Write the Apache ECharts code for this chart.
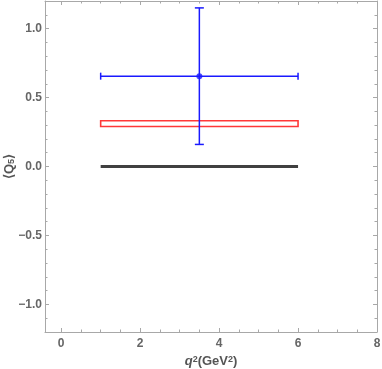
<!DOCTYPE html>
<html><head><meta charset="utf-8">
<script src="https://cdn.jsdelivr.net/npm/echarts@6/dist/echarts.min.js"></script>
<style>html,body{margin:0;padding:0;background:#fff}#c{width:382px;height:369px}</style>
</head><body><div id="c"></div>
<script>
// Data
const measX = [3.5];
const measY = [0.655];
const measXLow = [1.0];
const measXHigh = [6.0];
const measYLow = [0.16];
const measYHigh = [1.15];
const bandXLow = [1.0];
const bandXHigh = [6.0];
const bandYLow = [0.29];
const bandYHigh = [0.332];
const smX = [1.0, 6.0];
const smY = [0.0, 0.0];
const xMajor = [0, 2, 4, 6, 8];
const xMinor = [0.5, 1, 1.5, 2.5, 3, 3.5, 4.5, 5, 5.5, 6.5, 7, 7.5];
const yMajor = [-1.0, -0.5, 0.0, 0.5, 1.0];
const yMinor = [-1.1, -0.9, -0.8, -0.7, -0.6, -0.4, -0.3, -0.2, -0.1, 0.1, 0.2, 0.3, 0.4, 0.6, 0.7, 0.8, 0.9, 1.1];

const axisCol = '#a8a8a8';
const labelStyle = {color: '#666', fontSize: 12, fontWeight: 'bold', fontFamily: 'Liberation Sans, Arial, sans-serif'};

function xAx(pos, vals, len, showLine, showLabel) {
  return {
    type: 'value', position: pos, min: -0.41, max: 8,
    axisLine: {show: showLine, onZero: false, lineStyle: {color: axisCol, width: 1}},
    axisTick: {show: true, inside: true, length: len, customValues: vals, lineStyle: {color: axisCol}},
    axisLabel: showLabel ? Object.assign({customValues: xMajor, margin: 6}, labelStyle) : {show: false},
    splitLine: {show: false}
  };
}
function yAx(pos, vals, len, showLine, showLabel) {
  return {
    type: 'value', position: pos, min: -1.2, max: 1.2,
    axisLine: {show: showLine, onZero: false, lineStyle: {color: axisCol, width: 1}},
    axisTick: {show: true, inside: true, length: len, customValues: vals, lineStyle: {color: axisCol}},
    axisLabel: showLabel ? Object.assign({customValues: yMajor, margin: 3,
      formatter: v => (v < 0 ? '\u2212' : '') + Math.abs(v).toFixed(1)}, labelStyle) : {show: false},
    splitLine: {show: false}
  };
}

const xAxes = [
  xAx('bottom', xMajor, 4, true, true),
  xAx('bottom', xMinor, 2.5, false, false),
  xAx('top', xMajor, 4, true, false),
  xAx('top', xMinor, 2.5, false, false)
];
xAxes[0].name = '{i|q}{s|2}{n|(GeV}{s|2}{n|)}';
xAxes[0].nameLocation = 'middle';
xAxes[0].nameGap = 23;
xAxes[0].nameMoveOverlap = false;
xAxes[0].nameTextStyle = {
  rich: {
    i: {fontStyle: 'italic', fontWeight: 'bold', fontSize: 13, color: '#555', fontFamily: 'Liberation Sans'},
    n: {fontWeight: 'bold', fontSize: 13, color: '#555', fontFamily: 'Liberation Sans'},
    s: {fontWeight: 'bold', fontSize: 9, color: '#555', fontFamily: 'Liberation Sans', verticalAlign: 'top', lineHeight: 13}
  }
};
const yAxes = [
  yAx('left', yMajor, 4, true, true),
  yAx('left', yMinor, 2.5, false, false),
  yAx('right', yMajor, 4, true, false),
  yAx('right', yMinor, 2.5, false, false)
];
yAxes[0].name = '{n|\u27E8Q}{b|5}{n|\u27E9}';
yAxes[0].nameLocation = 'middle';
yAxes[0].nameGap = 29;
yAxes[0].nameMoveOverlap = false;
yAxes[0].nameTextStyle = {
  rich: {
    n: {fontWeight: 'bold', fontSize: 13, color: '#555', fontFamily: 'Liberation Sans'},
    b: {fontWeight: 'bold', fontSize: 9, color: '#555', fontFamily: 'Liberation Sans', verticalAlign: 'bottom', lineHeight: 13}
  }
};

const measData = measX.map((x, i) => [x, measY[i], measXLow[i], measXHigh[i], measYLow[i], measYHigh[i]]);
const bandData = bandXLow.map((x, i) => [x, bandXHigh[i], bandYLow[i], bandYHigh[i]]);
const blue = '#1a1aff';

const chart = echarts.init(document.getElementById('c'), null, {renderer: 'canvas'});
chart.setOption({
  animation: false,
  grid: {left: 45, right: 5, top: 1, bottom: 37, containLabel: false, outerBoundsMode: 'none'},
  xAxis: xAxes,
  yAxis: yAxes,
  series: [
    {
      type: 'line', data: smX.map((x, i) => [x, smY[i]]), symbol: 'none',
      lineStyle: {color: '#2b2b2b', width: 3.2, opacity: 0.9}, z: 2
    },
    {
      type: 'custom', data: bandData, z: 3,
      renderItem: (params, api) => {
        const p1 = api.coord([api.value(0), api.value(3)]);
        const p2 = api.coord([api.value(1), api.value(2)]);
        return {type: 'rect', shape: {x: p1[0], y: p1[1], width: p2[0] - p1[0], height: p2[1] - p1[1]},
          style: {fill: 'none', stroke: '#ff3838', lineWidth: 1.6}};
      }
    },
    {
      type: 'custom', data: measData, z: 4,
      renderItem: (params, api) => {
        const x = api.value(0), y = api.value(1);
        const l = api.coord([api.value(2), y]);
        const r = api.coord([api.value(3), y]);
        const b = api.coord([x, api.value(4)]);
        const t = api.coord([x, api.value(5)]);
        const st = {stroke: blue, lineWidth: 1.5};
        return {type: 'group', children: [
          {type: 'line', shape: {x1: l[0], y1: l[1], x2: r[0], y2: r[1]}, style: st},
          {type: 'line', shape: {x1: b[0], y1: b[1], x2: t[0], y2: t[1]}, style: st},
          {type: 'line', shape: {x1: l[0], y1: l[1] - 3.5, x2: l[0], y2: l[1] + 3.5}, style: st},
          {type: 'line', shape: {x1: r[0], y1: r[1] - 3.5, x2: r[0], y2: r[1] + 3.5}, style: st},
          {type: 'line', shape: {x1: t[0] - 4.5, y1: t[1], x2: t[0] + 4.5, y2: t[1]}, style: st},
          {type: 'line', shape: {x1: b[0] - 4.5, y1: b[1], x2: b[0] + 4.5, y2: b[1]}, style: st}
        ]};
      }
    },
    {
      type: 'scatter', data: measX.map((x, i) => [x, measY[i]]), symbol: 'circle', symbolSize: 6,
      itemStyle: {color: blue}, z: 5
    }
  ]
});
</script></body></html>
